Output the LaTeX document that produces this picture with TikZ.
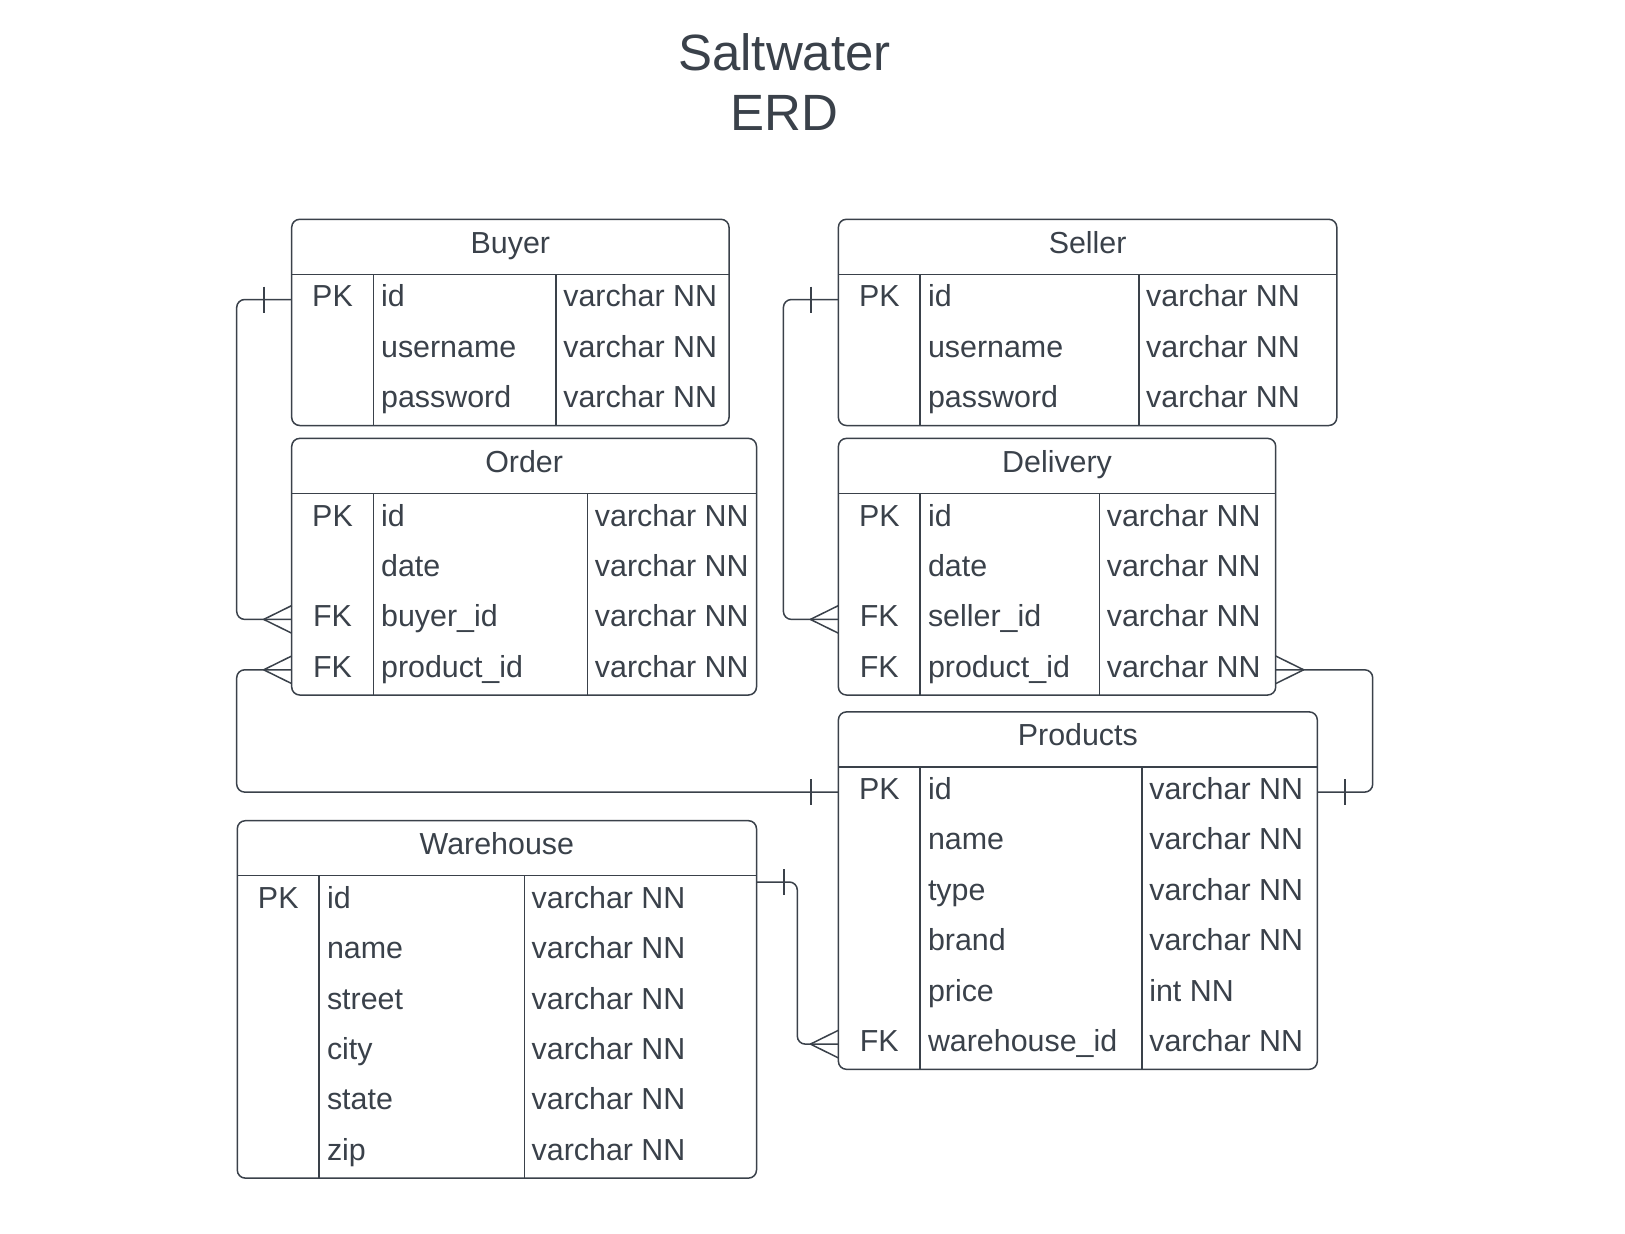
\documentclass[tikz,border=0pt]{standalone}
\usepackage{fontspec}
\setmainfont{Liberation Sans}
\usetikzlibrary{calc}
\definecolor{ink}{RGB}{58,65,74}
\tikzset{
  ln/.style={draw=ink, line width=1.5pt},
  conn/.style={ln, rounded corners=8pt},
  tbl/.style={ln, rounded corners=8pt, anchor=north west, inner sep=0pt, outer sep=0pt},
  txt/.style={text=ink, inner sep=0pt, font=\fontsize{30.4}{36}\selectfont},
  ttl/.style={text=ink, inner sep=0pt, font=\fontsize{51}{60}\selectfont, anchor=base},
}
% #1 name, #2 title, #3 left, #4 top, #5 right, #6 col1, #7 col2, #8 nrows, #9 rows
\newcommand\ERtable[9]{%
  \pgfmathsetmacro\ERhb{#4+55}%
  \pgfmathsetmacro\ERbt{#4+55+#8*50.4}%
  \pgfmathsetmacro\ERw{#5-#3}%
  \pgfmathsetmacro\ERh{\ERbt-#4}%
  \node[tbl, minimum width=\ERw pt, minimum height=\ERh pt] (#1) at (#3,#4) {};
  \node[txt, anchor=base] (#1-title) at ({(#3+#5)/2},{#4+34}) {#2};
  \draw[ln] (#3,\ERhb) -- (#5,\ERhb);
  \draw[ln] (#6,\ERhb) -- (#6,\ERbt);
  \draw[ln] (#7,\ERhb) -- (#7,\ERbt);
  \foreach \k/\n/\t [count=\i] in {#9} {
    \pgfmathsetmacro\ERyc{\ERhb+(\i-1)*50.4+25.2}
    \coordinate (#1-\i-w) at (#3,\ERyc);
    \coordinate (#1-\i-e) at (#5,\ERyc);
    \node[txt, anchor=base] (#1-k\i) at ({(#3+#6)/2},{\ERyc+7.4}) {\k};
    \node[txt, anchor=base west] (#1-n\i) at ({#6+7.6},{\ERyc+7.4}) {\n};
    \node[txt, anchor=base west] (#1-t\i) at ({#7+7.1},{\ERyc+7.4}) {\t};
  }%
}
\newcommand\onemark[2]{%
  \draw[ln] ($(#1)+(#2*27.5,-13)$) -- ($(#1)+(#2*27.5,13)$);%
}
\newcommand\manymark[2]{%
  \draw[ln] ($(#1)+(#2*28,0)$) -- ($(#1)+(0,-13.8)$);%
  \draw[ln] ($(#1)+(#2*28,0)$) -- ($(#1)+(0,13.8)$);%
}
\begin{document}
\begin{tikzpicture}[x=1pt,y=-1pt]
\useasboundingbox[fill=white] (0,0) rectangle (1625,1234);

\node[ttl] (title1) at (784.5,70) {Saltwater};
\node[ttl] (title2) at (784.5,130) {ERD};

\ERtable{buyer}{Buyer}{291.7}{219.3}{729}{373.3}{556}{3}%
  {PK/id/varchar NN, /username/varchar NN, /password/varchar NN}
\ERtable{seller}{Seller}{838.4}{219.3}{1336.8}{920.2}{1138.9}{3}%
  {PK/id/varchar NN, /username/varchar NN, /password/varchar NN}
\ERtable{order}{Order}{291.7}{438.4}{756.5}{373.3}{587.6}{4}%
  {PK/id/varchar NN, /date/varchar NN, FK/buyer\_id/varchar NN, FK/product\_id/varchar NN}
\ERtable{delivery}{Delivery}{838.4}{438.4}{1275.7}{920.2}{1099.5}{4}%
  {PK/id/varchar NN, /date/varchar NN, FK/seller\_id/varchar NN, FK/product\_id/varchar NN}
\ERtable{products}{Products}{838.4}{711.9}{1317.3}{920.2}{1142}{6}%
  {PK/id/varchar NN, /name/varchar NN, /type/varchar NN, /brand/varchar NN, /price/int NN, FK/warehouse\_id/varchar NN}
\ERtable{warehouse}{Warehouse}{237.3}{820.7}{756.5}{319.2}{524.4}{6}%
  {PK/id/varchar NN, /name/varchar NN, /street/varchar NN, /city/varchar NN, /state/varchar NN, /zip/varchar NN}

% Buyer -> Order
\draw[conn] (buyer-1-w) -- ++(-55,0) |- (order-3-w);
\onemark{buyer-1-w}{-1}
\manymark{order-3-w}{-1}

% Order -> Products
\draw[conn] (order-4-w) -- ++(-55,0) |- (products-1-w);
\manymark{order-4-w}{-1}
\onemark{products-1-w}{-1}

% Seller -> Delivery
\draw[conn] (seller-1-w) -- ++(-55,0) |- (delivery-3-w);
\onemark{seller-1-w}{-1}
\manymark{delivery-3-w}{-1}

% Delivery -> Products
\draw[conn] (delivery-4-e) -- ++(97,0) |- (products-1-e);
\manymark{delivery-4-e}{1}
\onemark{products-1-e}{1}

% Warehouse -> Products
\coordinate (whlink) at (756.5,882);
\draw[conn] (whlink) -- ++(40.8,0) |- (products-6-w);
\onemark{whlink}{1}
\manymark{products-6-w}{-1}
\end{tikzpicture}
\end{document}
